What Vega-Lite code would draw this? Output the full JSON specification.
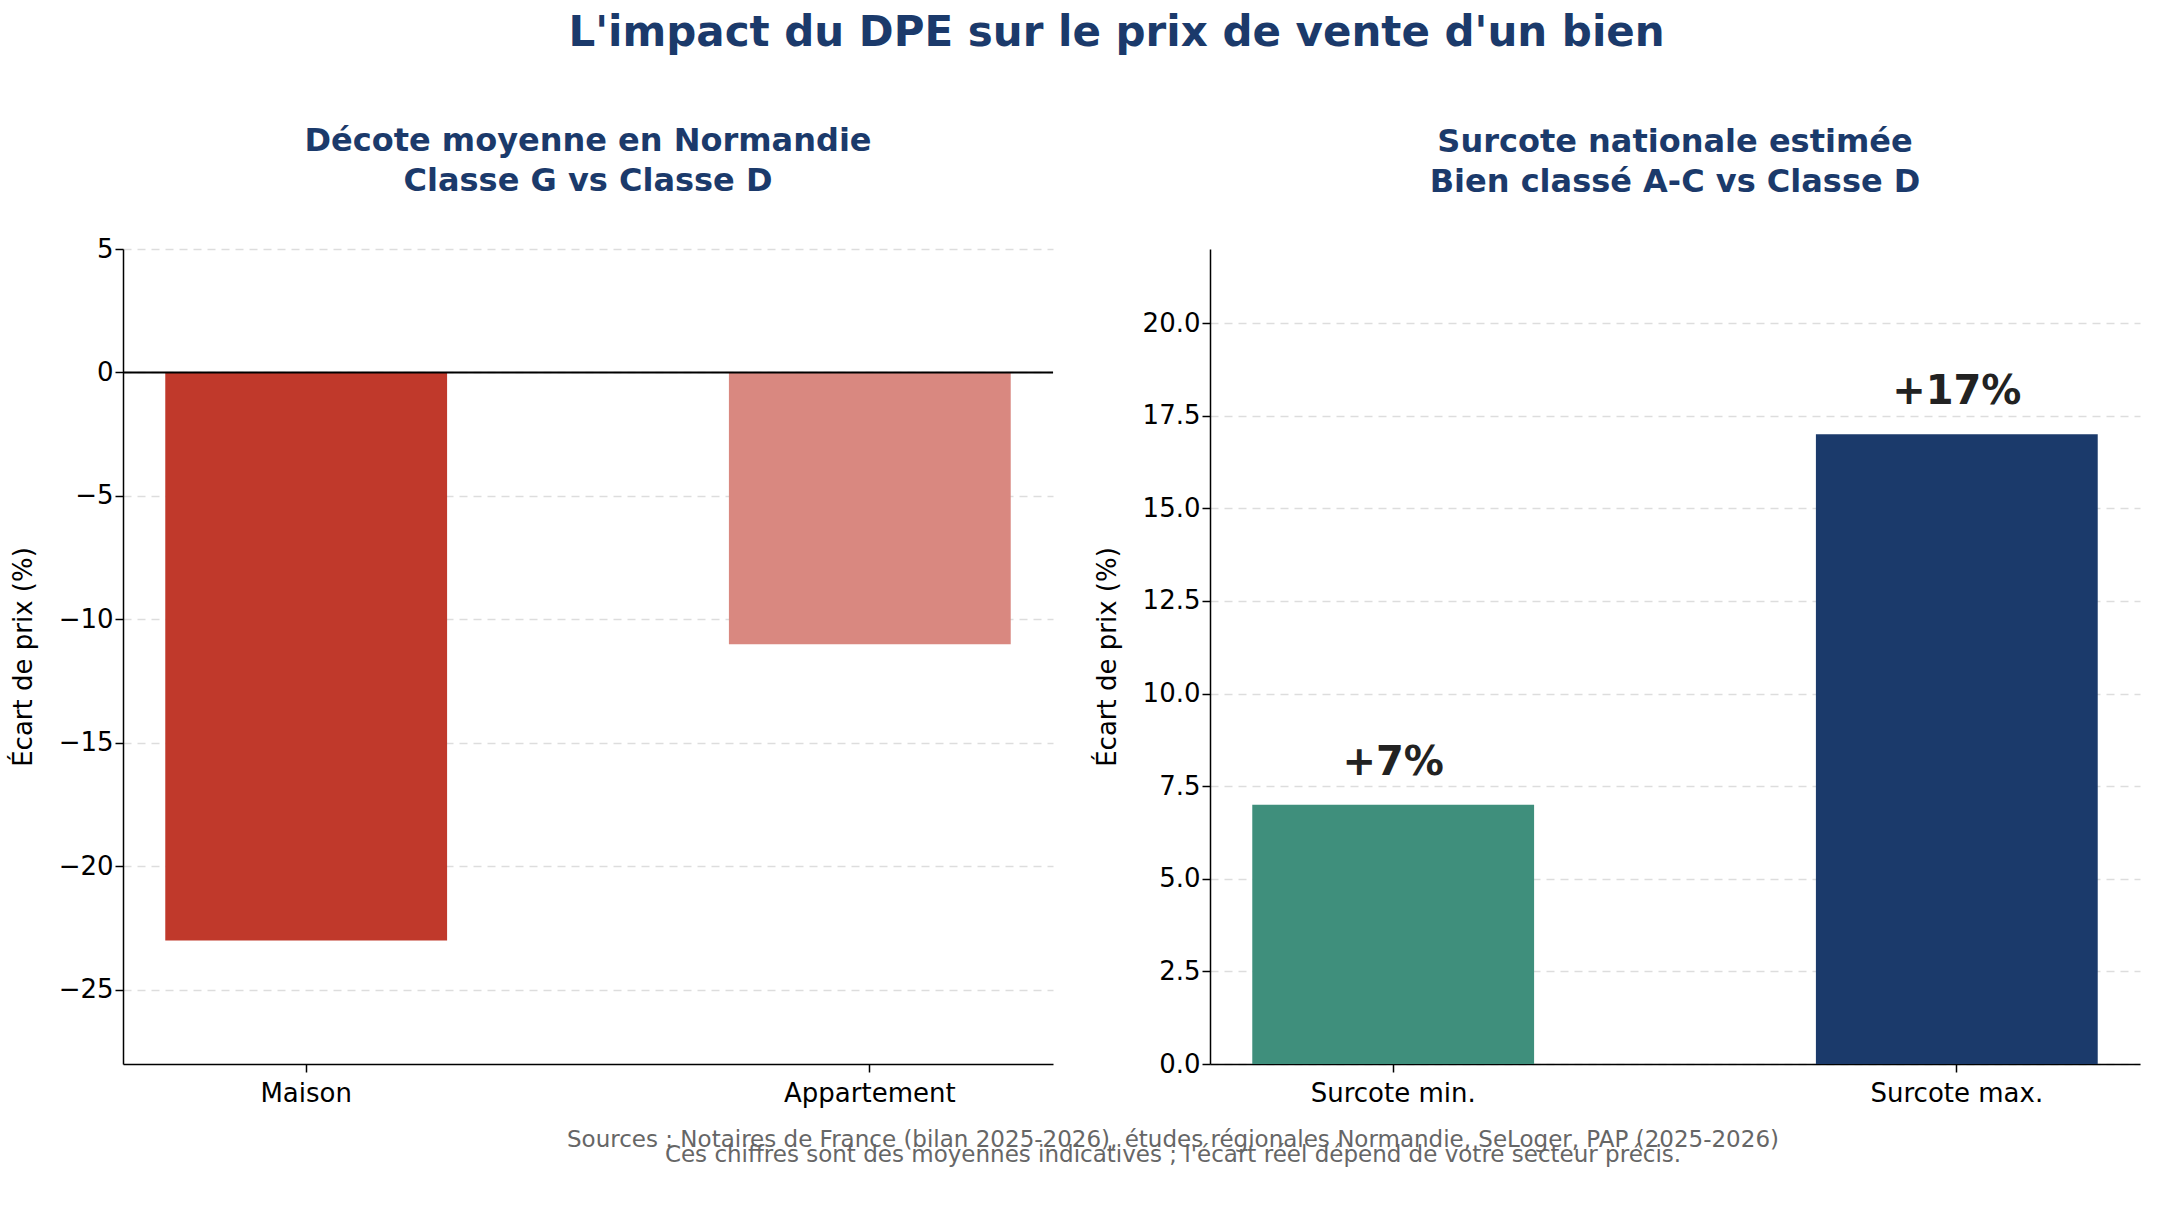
{
  "$schema": "https://vega.github.io/schema/vega-lite/v6.json",
  "background": "white",
  "padding": {"left": 10, "top": 12, "right": 10, "bottom": 5},
  "title": {"text": "L'impact du DPE sur le prix de vente d'un bien", "fontSize": 42, "font": "DejaVu Sans", "fontWeight": "bold", "color": "#1b3a6b", "offset": 70, "anchor": "middle"},
  "config": {
    "font": "DejaVu Sans",
    "view": {"stroke": null},
    "axis": {"labelFont": "DejaVu Sans", "titleFont": "DejaVu Sans", "labelFontSize": 26, "titleFontSize": 26, "titleFontWeight": "normal", "labelColor": "#000", "titleColor": "#000", "domainColor": "#000", "domainWidth": 1.5, "tickColor": "#000", "tickWidth": 1.5, "gridDash": [8, 6], "gridColor": "#dddddd", "gridWidth": 1.3},
    "title": {"fontSize": 32, "fontWeight": "bold", "color": "#1b3a6b", "font": "DejaVu Sans", "lineHeight": 40}
  },
  "vconcat": [
    {
      "hconcat": [
        {
          "title": {"text": ["Décote moyenne en Normandie", "Classe G vs Classe D"], "offset": 38},
          "width": 930, "height": 815,
          "data": {"values": [
            {"type": "Maison", "v": -23, "c": "#c0392b"},
            {"type": "Appartement", "v": -11, "c": "#d98880"}
          ]},
          "layer": [
            {
              "mark": {"type": "bar"},
              "encoding": {
                "x": {"field": "type", "type": "nominal", "sort": null, "scale": {"paddingInner": 0.5, "paddingOuter": 0.075}, "axis": {"title": null, "labelAngle": 0, "tickSize": 8, "labelPadding": 8}},
                "y": {"field": "v", "type": "quantitative", "scale": {"domain": [-28, 5], "nice": false}, "axis": {"title": "Écart de prix (%)", "values": [-25, -20, -15, -10, -5, 0, 5], "titlePadding": 22, "tickSize": 8}},
                "color": {"field": "c", "type": "nominal", "scale": null}
              }
            },
            {
              "data": {"values": [{"z": 0}]},
              "mark": {"type": "rule", "color": "#000", "strokeWidth": 1.8},
              "encoding": {"y": {"field": "z", "type": "quantitative"}}
            }
          ]
        },
        {
          "title": {"text": ["Surcote nationale estimée", "Bien classé A-C vs Classe D"], "offset": 50},
          "width": 930, "height": 815,
          "data": {"values": [
            {"type": "Surcote min.", "v": 7, "lab": "+7%", "c": "#3f8f7c"},
            {"type": "Surcote max.", "v": 17, "lab": "+17%", "c": "#1b3a6b"}
          ]},
          "encoding": {
            "x": {"field": "type", "type": "nominal", "sort": null, "scale": {"paddingInner": 0.5, "paddingOuter": 0.075}, "axis": {"title": null, "labelAngle": 0, "tickSize": 8, "labelPadding": 8}},
            "y": {"field": "v", "type": "quantitative", "scale": {"domain": [0, 22], "nice": false}, "axis": {"title": "Écart de prix (%)", "values": [0, 2.5, 5, 7.5, 10, 12.5, 15, 17.5, 20], "format": ".1f", "titlePadding": 22, "tickSize": 8}}
          },
          "layer": [
            {"mark": {"type": "bar"}, "encoding": {"color": {"field": "c", "type": "nominal", "scale": null}}},
            {"mark": {"type": "text", "fontSize": 40, "fontWeight": "bold", "color": "#222", "dy": -42}, "encoding": {"text": {"field": "lab"}}}
          ]
        }
      ],
      "spacing": 40
    },
    {
      "width": 2100, "height": 30,
      "data": {"values": [
        {"i": 0, "t": "Sources : Notaires de France (bilan 2025-2026), études régionales Normandie, SeLoger, PAP (2025-2026)"},
        {"i": 1, "t": "Ces chiffres sont des moyennes indicatives ; l'écart réel dépend de votre secteur précis."}
      ]},
      "mark": {"type": "text", "fontSize": 23, "color": "#666"},
      "encoding": {
        "y": {"field": "i", "type": "ordinal", "axis": null},
        "text": {"field": "t"}
      }
    }
  ],
  "spacing": 22
}
